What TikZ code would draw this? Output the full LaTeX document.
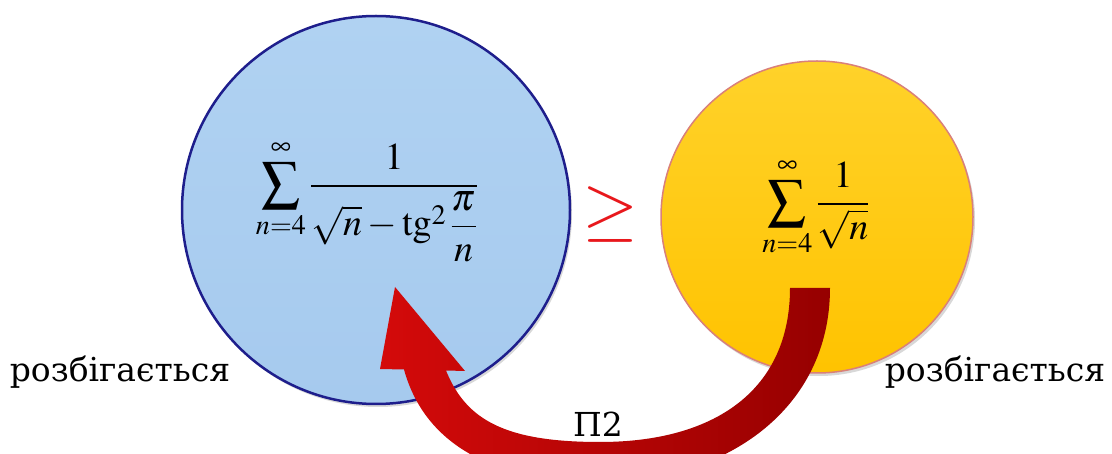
\documentclass[tikz,border=0pt]{standalone}
\usepackage{mathptmx}
\usepackage[no-math]{fontspec}
\newfontfamily\txtfont{DejaVu Serif}
\usetikzlibrary{shadows}
\definecolor{bluetop}{HTML}{B0D2F2}
\definecolor{bluebot}{HTML}{A6CAEE}
\definecolor{blueedge}{HTML}{1E1E8C}
\definecolor{yeltop}{HTML}{FFD22A}
\definecolor{yelbot}{HTML}{FFC300}
\definecolor{yeledge}{HTML}{D9807A}
\definecolor{arrbright}{HTML}{D40A0A}
\definecolor{arrmid}{HTML}{C20000}
\definecolor{arrdark}{HTML}{960000}
\definecolor{geqred}{HTML}{E8181C}
\tikzset{
  circshadow/.style={drop shadow={shadow xshift=2pt, shadow yshift=-3pt, opacity=0.25, fill=black!60}},
  bluecirc/.style={circle, inner sep=0pt, minimum size=388pt, draw=blueedge, line width=2.5pt,
    top color=bluetop, bottom color=bluebot, circshadow},
  yelcirc/.style={circle, inner sep=0pt, minimum size=312pt, draw=yeledge, line width=1.5pt,
    top color=yeltop, bottom color=yelbot, circshadow},
  formula/.style={inner sep=0pt, font=\fontsize{38}{44}\selectfont},
  label/.style={inner sep=0pt, font=\txtfont\fontsize{33}{38}\selectfont, text=black},
}
\begin{document}
\begin{tikzpicture}[x=1pt,y=-1pt]
\useasboundingbox (0,0) rectangle (1112,454);
\begin{scope}
\clip (0,0) rectangle (1112,454);
\fill[white] (0,0) rectangle (1112,454);
\node[bluecirc] (blue) at (376,210) {};
\node[yelcirc] (yellow) at (817,217) {};
\node[formula] (f1) at (367,201) {$\displaystyle\sum_{n=4}^{\infty}\frac{1}{\sqrt{n}-\mathrm{tg}^{2}\,{\displaystyle\frac{\pi}{n}}}$};
\node[formula] (f2) at (816,207) {$\displaystyle\sum_{n=4}^{\infty}\frac{1}{\sqrt{n}}$};
\node[inner sep=0pt, text=geqred, font=\fontsize{72}{72}\selectfont] (geq) at (610,214) {$\geq$};
\shade[left color=arrbright, middle color=arrmid, right color=arrdark]
 (380,369) -- (395,287) -- (465,371) -- (446,370.5)
 .. controls (466,420) and (505,442) .. (600,442)
 .. controls (715,442) and (790,390) .. (790,288)
 -- (830,288)
 .. controls (830,410) and (725,482) .. (600,482)
 .. controls (490,482) and (424,442) .. (404,369.5) -- cycle;
\node[label] (left) at (120,372) {розбігається};
\node[label] (right) at (995,372) {розбігається};
\node[label] (p2) at (598,424) {П2};
\end{scope}
\end{tikzpicture}
\end{document}
